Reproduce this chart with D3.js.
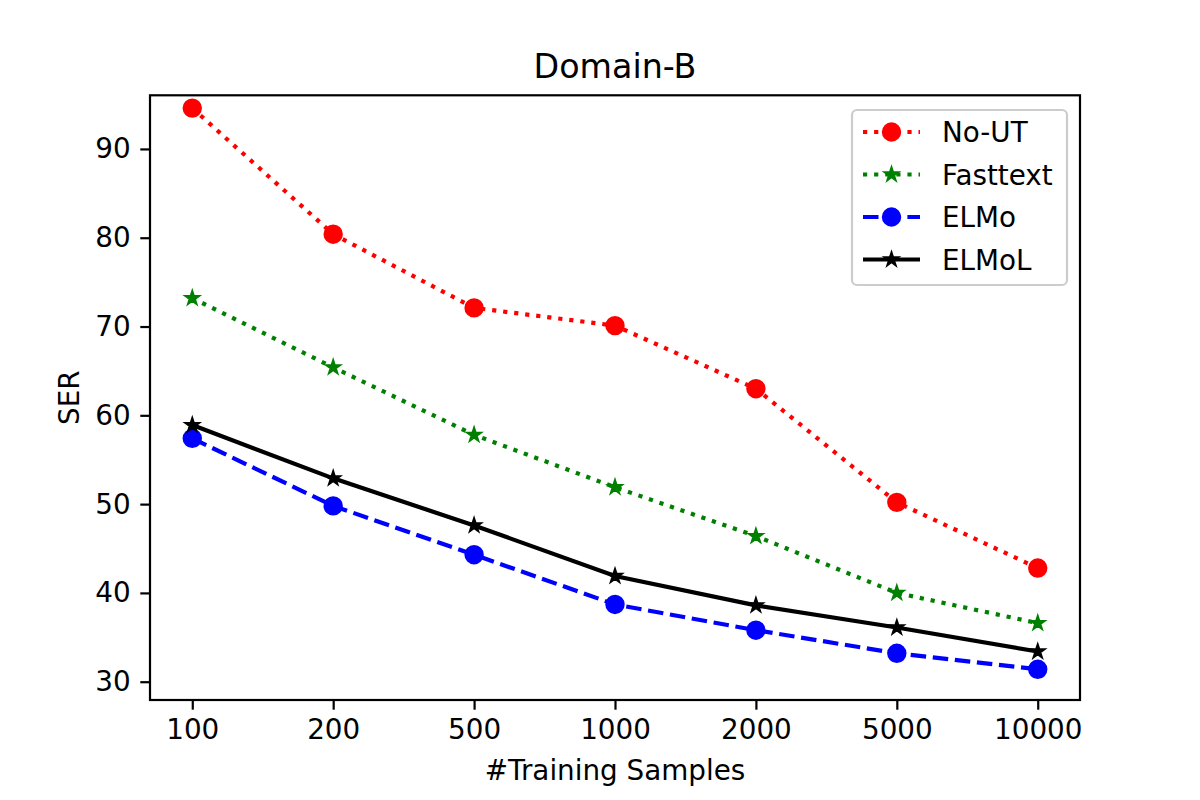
<!DOCTYPE html>
<html>
<head>
<meta charset="utf-8">
<script src="https://cdn.jsdelivr.net/npm/d3@7"></script>
<style>
  body { margin: 0; background: #fff; }
  svg { display: block; font-family: "DejaVu Sans", sans-serif; }
</style>
</head>
<body>
<svg id="chart" width="1200" height="800"></svg>
<script>
const categories = ["100", "200", "500", "1000", "2000", "5000", "10000"];
const noUT     = [94.6, 80.4, 72.1, 70.1, 63.0, 50.2, 42.8];
const fasttext = [73.2, 65.4, 57.8, 51.9, 46.4, 40.0, 36.6];
const elmo     = [57.4, 49.8, 44.3, 38.7, 35.8, 33.2, 31.4];
const elmoL    = [58.9, 52.9, 47.6, 41.9, 38.6, 36.1, 33.4];
const yTicks   = [30, 40, 50, 60, 70, 80, 90];

const seriesDefs = [
  { name: "No-UT",    values: noUT,     color: "#ff0000", dash: "4.2,6.9",  marker: "circle" },
  { name: "Fasttext", values: fasttext, color: "#008000", dash: "4.2,6.9",  marker: "star" },
  { name: "ELMo",     values: elmo,     color: "#0000ff", dash: "15.5,6.7", marker: "circle" },
  { name: "ELMoL",    values: elmoL,    color: "#000000", dash: null,       marker: "star" }
];

const svg = d3.select("#chart");
const L = 150, R = 1080, T = 95.3, B = 700;

const x = d3.scalePoint().domain(categories).range([L, R]).padding(0.3);
const y = d3.scaleLinear().domain([27.94, 96.04]).range([B, T]);

const fontSize = 27.8;

const line = d3.line().x((d, i) => x(categories[i])).y(d => y(d));
const plot = svg.append("g");

function drawMarker(g, type, cx, cy, color) {
  if (type === "circle") {
    g.append("circle").attr("cx", cx).attr("cy", cy).attr("r", 8.4)
      .attr("fill", color).attr("stroke", color).attr("stroke-width", 2.6);
  } else {
    g.append("path").attr("d", d3.symbol().type(d3.symbolStar).size(68)())
      .attr("transform", `translate(${cx},${cy})`)
      .attr("fill", color).attr("stroke", color).attr("stroke-width", 1.6)
      .attr("stroke-linejoin", "miter");
  }
}

seriesDefs.forEach(s => {
  plot.append("path").datum(s.values)
    .attr("d", line)
    .attr("fill", "none")
    .attr("stroke", s.color)
    .attr("stroke-width", 4.2)
    .attr("stroke-dasharray", s.dash)
    .attr("stroke-linecap", "butt");
  s.values.forEach((v, i) => drawMarker(plot, s.marker, x(categories[i]), y(v), s.color));
});

svg.append("rect").attr("x", L).attr("y", T).attr("width", R - L).attr("height", B - T)
  .attr("fill", "none").attr("stroke", "#000").attr("stroke-width", 2.2);

const xAxis = d3.axisBottom(x).tickSize(9.7).tickPadding(9.7);
const gx = svg.append("g").attr("transform", `translate(0,${B})`).call(xAxis);
gx.select(".domain").remove();
gx.selectAll(".tick line").attr("stroke", "#000").attr("stroke-width", 2.2);
gx.selectAll(".tick text").attr("font-size", fontSize).attr("font-family", "DejaVu Sans").attr("fill", "#000");

const yAxis = d3.axisLeft(y).tickValues(yTicks).tickSize(9.7).tickPadding(9.7);
const gy = svg.append("g").attr("transform", `translate(${L},0)`).call(yAxis);
gy.select(".domain").remove();
gy.selectAll(".tick line").attr("stroke", "#000").attr("stroke-width", 2.2);
gy.selectAll(".tick text").attr("font-size", fontSize).attr("font-family", "DejaVu Sans").attr("fill", "#000");

svg.append("text").attr("x", (L + R) / 2).attr("y", 78).attr("text-anchor", "middle")
  .attr("font-size", 33.3).attr("fill", "#000").text("Domain-B");
svg.append("text").attr("x", (L + R) / 2).attr("y", 780).attr("text-anchor", "middle")
  .attr("font-size", fontSize).attr("fill", "#000").text("#Training Samples");
svg.append("text").attr("transform", `translate(79,${(T + B) / 2}) rotate(-90)`)
  .attr("text-anchor", "middle").attr("font-size", fontSize).attr("fill", "#000").text("SER");

const leg = svg.append("g");
leg.append("rect").attr("x", 852).attr("y", 110).attr("width", 215).attr("height", 175)
  .attr("rx", 5).attr("ry", 5).attr("fill", "#fff").attr("fill-opacity", 0.8)
  .attr("stroke", "#cccccc").attr("stroke-width", 2.2);
const rowY = [132, 174.5, 217, 259.5];
seriesDefs.forEach((s, i) => {
  const ry = rowY[i];
  leg.append("line").attr("x1", 863).attr("x2", 920).attr("y1", ry).attr("y2", ry)
    .attr("stroke", s.color).attr("stroke-width", 4.2).attr("stroke-dasharray", s.dash);
  drawMarker(leg, s.marker, 891.5, ry, s.color);
  leg.append("text").attr("x", 942).attr("y", ry + 10).attr("font-size", fontSize)
    .attr("fill", "#000").text(s.name);
});
</script>
</body>
</html>
